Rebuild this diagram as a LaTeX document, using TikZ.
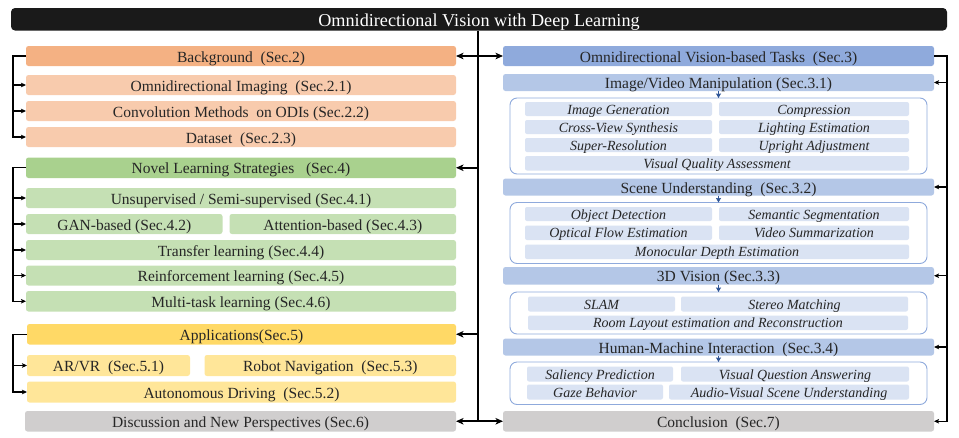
\documentclass[tikz,border=0pt]{standalone}
\usepackage{fontspec}
\setmainfont{Liberation Serif}
\usetikzlibrary{arrows.meta}
\definecolor{txt}{HTML}{262626}
\definecolor{orH}{HTML}{F4B183}
\definecolor{orL}{HTML}{F8CBAD}
\definecolor{grH}{HTML}{A9D18E}
\definecolor{grL}{HTML}{C5E0B4}
\definecolor{yeH}{HTML}{FFD966}
\definecolor{yeL}{HTML}{FFE699}
\definecolor{gyB}{HTML}{D0CECE}
\definecolor{blH}{HTML}{8FAADC}
\definecolor{blM}{HTML}{B4C7E7}
\definecolor{blL}{HTML}{DAE3F3}
\definecolor{blP}{HTML}{8FAADC}
\definecolor{blA}{HTML}{2F5597}
\definecolor{ttl}{HTML}{1A1A1A}
\newcommand\mainfs{\fontsize{15.5}{17}\selectfont}
\newcommand\itfs{\fontsize{14}{15}\selectfont\itshape}
\newcommand\mkbox[7]{\node[#2, minimum width={(#5)-(#3)}, minimum height={(#6)-(#4)}] (#1) at ({((#3)+(#5))/2},{((#4)+(#6))/2}) {#7};}
\begin{document}
\begin{tikzpicture}[x=1pt,y=-1pt,
  bx/.style={rounded corners=2.5pt, inner sep=0pt, outer sep=0pt, font=\mainfs, text=txt, text height=12pt, text depth=0pt},
  itm/.style={rounded corners=2pt, inner sep=0pt, outer sep=0pt, fill=blL, font=\itfs, text=txt, text height=10pt, text depth=0pt},
  panel/.style={draw=blP, line width=0.9pt, rounded corners=7pt, fill=white, inner sep=0pt, outer sep=0pt},
  trunk/.style={line width=1.8pt, draw=black},
  tarr/.style={-{Stealth[length=7.5pt,width=6.5pt,inset=2pt]}},
  brk/.style={line width=1.2pt, draw=black},
  barr/.style={-{Stealth[length=5pt,width=4.5pt,inset=1pt]}},
  blarr/.style={draw=blA, line width=0.8pt, -{Stealth[length=4.5pt,width=5pt,inset=0.5pt]}}
]
\useasboundingbox (0,0) rectangle (959,437);

% title
\mkbox{title}{bx, fill=ttl, rounded corners=4pt, text=white, font=\fontsize{18.2}{20}\selectfont, text height=13.5pt}{11}{8}{947}{30.5}{Omnidirectional Vision with Deep Learning}

% left: background
\mkbox{bg}{bx, fill=orH}{26}{46}{456}{66}{Background~ (Sec.2)}
\mkbox{oi}{bx, fill=orL}{26}{75}{456}{95}{Omnidirectional Imaging~ (Sec.2.1)}
\mkbox{conv}{bx, fill=orL}{26}{101}{456}{121}{Convolution Methods~ on ODIs (Sec.2.2)}
\mkbox{ds}{bx, fill=orL}{26}{127}{456}{147}{Dataset~ (Sec.2.3)}

% left: novel learning
\mkbox{nls}{bx, fill=grH}{26}{157.5}{456}{178}{Novel Learning Strategies ~~(Sec.4)}
\mkbox{uns}{bx, fill=grL}{26}{188}{456}{208}{Unsupervised / Semi-supervised (Sec.4.1)}
\mkbox{gan}{bx, fill=grL}{26}{214}{222.5}{234}{GAN-based (Sec.4.2)}
\mkbox{att}{bx, fill=grL}{229.5}{214}{456}{234}{Attention-based (Sec.4.3)}
\mkbox{trl}{bx, fill=grL}{26}{240}{456}{260}{Transfer learning (Sec.4.4)}
\mkbox{rfl}{bx, fill=grL}{26}{265.5}{456}{285.5}{Reinforcement learning (Sec.4.5)}
\mkbox{mtl}{bx, fill=grL}{26}{291}{456}{311.5}{Multi-task learning (Sec.4.6)}

% left: applications
\mkbox{app}{bx, fill=yeH}{27}{324}{456}{344.5}{Applications(Sec.5)}
\mkbox{arvr}{bx, fill=yeL}{27}{355}{190}{376}{AR/VR~ (Sec.5.1)}
\mkbox{robot}{bx, fill=yeL}{204.5}{355}{456}{376}{Robot Navigation~ (Sec.5.3)}
\mkbox{auto}{bx, fill=yeL}{27}{381.5}{456}{402.5}{Autonomous Driving~ (Sec.5.2)}

% left: discussion
\mkbox{disc}{bx, fill=gyB}{25}{411}{456}{431.5}{Discussion and New Perspectives (Sec.6)}

% right column
\mkbox{tasks}{bx, fill=blH}{503}{46}{934}{66}{Omnidirectional Vision-based Tasks~ (Sec.3)}
\mkbox{ivm}{bx, fill=blM}{503}{74}{934}{91}{Image/Video Manipulation (Sec.3.1)}
\mkbox{p1}{panel}{510}{98}{927}{174}{}
\mkbox{ig}{itm}{525}{102}{712}{116}{Image Generation}
\mkbox{cmp}{itm}{719}{102}{909}{116}{Compression}
\mkbox{cvs}{itm}{525}{120}{712}{134}{Cross-View Synthesis}
\mkbox{lie}{itm}{719}{120}{909}{134}{Lighting Estimation}
\mkbox{sr}{itm}{525}{138}{712}{152}{Super-Resolution}
\mkbox{upa}{itm}{719}{138}{909}{152}{Upright Adjustment}
\mkbox{vqa}{itm}{525}{156}{909}{170.5}{Visual Quality Assessment}

\mkbox{su}{bx, fill=blM}{503}{178.5}{934}{195.5}{Scene Understanding~ (Sec.3.2)}
\mkbox{p2}{panel}{510}{202.5}{927}{263.5}{}
\mkbox{od}{itm}{525}{207}{712}{221}{Object Detection}
\mkbox{ss}{itm}{719}{207}{909}{221}{Semantic Segmentation}
\mkbox{ofe}{itm}{525}{225.5}{712}{240}{Optical Flow Estimation}
\mkbox{vs}{itm}{719}{225.5}{909}{240}{Video Summarization}
\mkbox{mde}{itm}{525}{244.5}{909}{259}{Monocular Depth Estimation}

\mkbox{tdv}{bx, fill=blM}{503}{267}{934}{284.5}{3D Vision (Sec.3.3)}
\mkbox{p3}{panel}{510}{292}{927}{334}{}
\mkbox{slam}{itm}{528}{296.5}{675}{311.5}{SLAM}
\mkbox{stm}{itm}{681}{296.5}{908}{311.5}{Stereo Matching}
\mkbox{room}{itm}{528}{315.5}{908}{330}{Room Layout estimation and Reconstruction}

\mkbox{hmi}{bx, fill=blM}{503}{338.5}{934}{355.5}{Human-Machine Interaction~ (Sec.3.4)}
\mkbox{p4}{panel}{510}{362}{927}{404.5}{}
\mkbox{sal}{itm}{527}{366.5}{673}{381.5}{Saliency Prediction}
\mkbox{vqans}{itm}{681}{366.5}{909}{381.5}{Visual Question Answering}
\mkbox{gaze}{itm}{527}{384.5}{663}{399.5}{Gaze Behavior}
\mkbox{avs}{itm}{669}{384.5}{909}{399.5}{Audio-Visual Scene Understanding}

\mkbox{concl}{bx, fill=gyB}{503}{411}{934}{431.5}{Conclusion~ (Sec.7)}

% blue small arrows
\draw[blarr] (ivm.south) -- (p1.north);
\draw[blarr] (su.south) -- (p2.north);
\draw[blarr] (tdv.south) -- (p3.north);
\draw[blarr] (hmi.south) -- (p4.north);

% trunk
\coordinate (ttop) at (478,30.5);
\coordinate (tbot) at (ttop |- disc.west);
\draw[trunk] (ttop) -- ([yshift=-0.9pt]tbot);
\foreach \n in {bg,nls,app,disc} \draw[trunk,tarr] (ttop |- \n.east) -- (\n.east);
\foreach \n in {tasks,concl} \draw[trunk,tarr] (ttop |- \n.west) -- (\n.west);

% left brackets
\coordinate (lb) at (13,0);
\draw[brk,barr] (bg.west) -- (lb |- bg.west) -- (lb |- ds.west) -- (ds.west);
\foreach \n in {oi,conv} \draw[brk,barr] (lb |- \n.west) -- (\n.west);
\draw[brk,barr] (nls.west) -- (lb |- nls.west) -- (lb |- mtl.west) -- (mtl.west);
\foreach \n in {uns,gan,trl,rfl} \draw[brk,barr] (lb |- \n.west) -- (\n.west);
\draw[brk,barr] (app.west) -- (lb |- app.west) -- (lb |- auto.west) -- (auto.west);
\draw[brk,barr] (lb |- arvr.west) -- (arvr.west);

% right bracket
\coordinate (rb) at (947,0);
\draw[brk,barr] (tasks.east) -- (rb |- tasks.east) -- (rb |- concl.east) -- (concl.east);
\foreach \n in {ivm,su,tdv,hmi} \draw[brk,barr] (rb |- \n.east) -- (\n.east);
\end{tikzpicture}
\end{document}
